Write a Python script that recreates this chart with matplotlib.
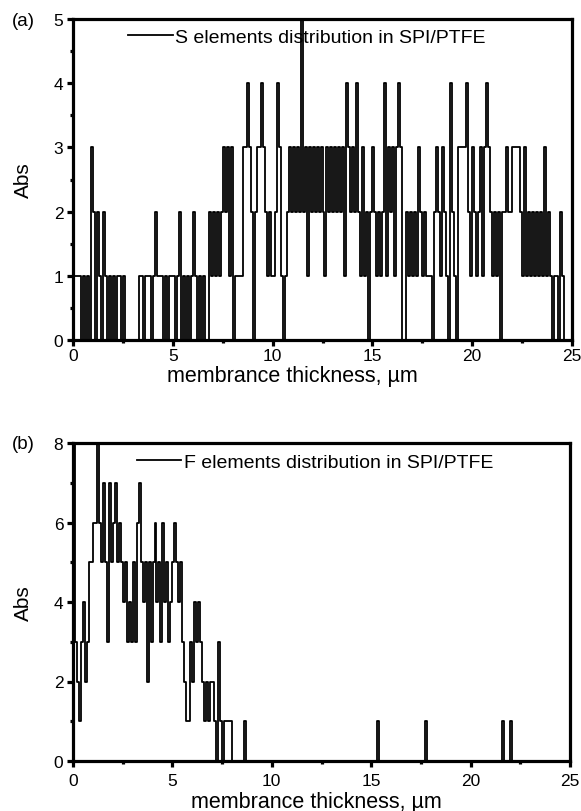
import numpy as np
import matplotlib
matplotlib.use("agg")
import matplotlib.pyplot as plt
from matplotlib.ticker import MultipleLocator
from matplotlib.lines import Line2D

plt.rcParams['font.family'] = ['Liberation Sans', 'DejaVu Sans']

# sampling step of the line scans, um
step = 0.1

# S counts, one row per micrometre (0.1 um bins)
s_counts = [
    [1, 1, 1, 1, 0, 1, 0, 1, 0, 3],
    [2, 0, 2, 1, 0, 2, 1, 0, 1, 0],
    [1, 0, 1, 1, 0, 1, 0, 0, 0, 0],
    [0, 0, 0, 1, 1, 0, 1, 1, 1, 0],
    [1, 2, 1, 1, 1, 0, 1, 0, 1, 1],
    [1, 0, 1, 2, 0, 1, 0, 1, 0, 1],
    [2, 1, 0, 1, 0, 1, 0, 0, 2, 1],
    [2, 1, 2, 1, 2, 3, 2, 3, 1, 3],
    [0, 1, 1, 1, 1, 3, 3, 4, 3, 2],
    [0, 2, 3, 3, 4, 3, 2, 1, 2, 1],
    [1, 2, 4, 3, 1, 0, 1, 2, 3, 2],
    [3, 2, 3, 2, 5, 2, 3, 1, 3, 2],
    [3, 2, 3, 2, 3, 2, 1, 3, 2, 3],
    [2, 3, 2, 3, 2, 3, 1, 4, 3, 2],
    [3, 2, 4, 2, 1, 3, 1, 2, 0, 2],
    [3, 2, 1, 2, 1, 2, 4, 1, 3, 2],
    [3, 1, 3, 4, 3, 0, 0, 2, 1, 2],
    [1, 2, 1, 3, 2, 1, 2, 1, 1, 1],
    [0, 2, 3, 2, 1, 3, 2, 1, 0, 4],
    [2, 1, 0, 3, 3, 3, 3, 4, 2, 1],
    [3, 2, 1, 2, 3, 1, 3, 4, 3, 2],
    [1, 2, 1, 2, 0, 2, 2, 3, 2, 2],
    [3, 3, 3, 3, 2, 1, 3, 1, 2, 1],
    [2, 1, 2, 1, 2, 1, 3, 1, 2, 1],
    [0, 1, 1, 0, 2, 1, 0],
]

# F counts from 0 to 9 um (0.1 um bins), then isolated single counts
f_counts = [
    [8, 3, 2, 1, 3, 4, 2, 3, 5, 5],
    [6, 6, 8, 6, 5, 7, 5, 3, 7, 5],
    [6, 7, 5, 6, 5, 4, 5, 3, 4, 3],
    [5, 3, 6, 7, 5, 4, 5, 2, 5, 3],
    [5, 6, 4, 5, 3, 6, 4, 5, 3, 4],
    [5, 6, 5, 4, 5, 3, 2, 1, 1, 3],
    [2, 4, 3, 4, 3, 2, 1, 2, 1, 2],
    [2, 1, 0, 3, 1, 0, 1, 1, 1, 1],
    [0, 0, 0, 0, 0, 0, 1, 0, 0, 0],
]
f_spike_x = [15.3, 17.7, 21.6, 22.0]
f_spike_val = [1, 1, 1, 1]
f_end = 22.5


def plot_panel(ax, x, y, ymax, ymajor, yminor, legend_text, leg_pos,
               xlab_pos, tick_pad):
    xe = np.append(x, x[-1] + step)
    ye = np.append(y, y[-1])
    ax.step(xe, ye, where='post', color='black', lw=1.3)
    ax.set_xlim(0, 25)
    ax.set_ylim(0, ymax)
    ax.xaxis.set_major_locator(MultipleLocator(5))
    ax.xaxis.set_minor_locator(MultipleLocator(2.5))
    ax.yaxis.set_major_locator(MultipleLocator(ymajor))
    ax.yaxis.set_minor_locator(MultipleLocator(yminor))
    for sp in ax.spines.values():
        sp.set_linewidth(2.3)
    ax.tick_params(which='major', direction='out', length=4, width=2.3,
                   labelsize=12.5, pad=3)
    ax.tick_params(axis='x', which='major', pad=tick_pad)
    ax.tick_params(which='minor', direction='out', length=2.5, width=2.3)
    ax.set_xlabel('membrance thickness, \u00b5m', fontsize=15.5)
    ax.xaxis.set_label_coords(*xlab_pos)
    ax.set_ylabel('Abs', fontsize=15, labelpad=15)
    handle = Line2D([], [], color='black', lw=1.3)
    ax.legend([handle], [legend_text], loc='center left', bbox_to_anchor=leg_pos,
              frameon=False, fontsize=14, handlelength=2.3, handletextpad=0.12,
              borderpad=0, borderaxespad=0)


fig = plt.figure(figsize=(5.81, 8.12), dpi=100)

# panel (a)
s_vals = np.array([v for row in s_counts for v in row], dtype=float)
s_x = np.arange(len(s_vals)) * step
ax1 = fig.add_axes([73 / 581, 1 - 341 / 812, 499 / 581, 321 / 812])
plot_panel(ax1, s_x, s_vals, 5, 1, 0.5,
           'S elements distribution in SPI/PTFE', (0.11, 0.944),
           (0.44, -0.077), 2)
fig.text(12 / 581, 1 - 22 / 812, '(a)', fontsize=13.5, va='center', ha='left')

# panel (b)
f_vals = [v for row in f_counts for v in row]
n_tail = int(round(f_end / step)) - len(f_vals)
f_vals = np.array(f_vals + [0] * n_tail, dtype=float)
for sx, sv in zip(f_spike_x, f_spike_val):
    f_vals[int(round(sx / step))] = sv
f_x = np.arange(len(f_vals)) * step
ax2 = fig.add_axes([73 / 581, 1 - 762 / 812, 497 / 581, 318 / 812])
plot_panel(ax2, f_x, f_vals, 8, 2, 1,
           'F elements distribution in SPI/PTFE', (0.128, 0.94),
           (0.49, -0.095), 5)
fig.text(12 / 581, 1 - 445 / 812, '(b)', fontsize=13.5, va='center', ha='left')

fig.savefig('out.png', dpi=100)
